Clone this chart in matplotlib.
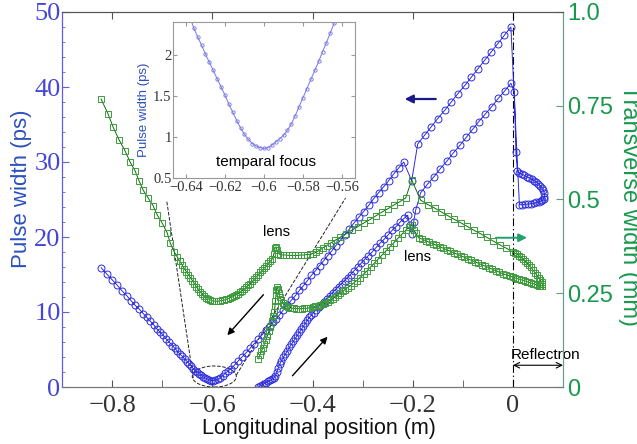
import numpy as np
import matplotlib
matplotlib.use('Agg')
import matplotlib.pyplot as plt
from matplotlib.patches import Ellipse
from matplotlib.ticker import MultipleLocator

plt.rcParams['font.family'] = ['Liberation Sans', 'DejaVu Sans']
plt.rcParams['axes.unicode_minus'] = True

SERIF = 'Liberation Serif'

# ---- pulse width (ps), blue, left axis ----
# forward pass: start -> reflectron
blue_fwd_x = [-0.508, -0.504, -0.500, -0.496, -0.492, -0.488, -0.484, -0.480, -0.477, -0.474,
              -0.471, -0.468, -0.465, -0.462, -0.458, -0.454, -0.450, -0.446, -0.442, -0.438,
              -0.434, -0.430, -0.426, -0.422, -0.418, -0.414, -0.410, -0.406, -0.402, -0.398,
              -0.393, -0.388, -0.383, -0.378, -0.372, -0.366, -0.360, -0.354, -0.348, -0.342,
              -0.336, -0.330, -0.324, -0.317, -0.310, -0.303, -0.296, -0.289, -0.281, -0.273,
              -0.265, -0.257, -0.249, -0.241, -0.233, -0.225, -0.217, -0.210, -0.206, -0.202,
              -0.198, -0.194, -0.184, -0.171, -0.158, -0.145, -0.132, -0.119, -0.106, -0.093,
              -0.080, -0.068, -0.055, -0.042, -0.029, -0.016, -0.004]
blue_fwd_y = [0.0, 0.15, 0.3, 0.45, 0.6, 0.75, 0.9, 1.05, 1.2, 1.5,
              2.0, 2.6, 3.1, 3.5, 4.0, 4.4, 4.8, 5.3, 5.7, 6.1,
              6.5, 6.9, 7.3, 7.7, 8.1, 8.5, 8.9, 9.3, 9.6, 9.9,
              10.3, 10.7, 11.0, 11.4, 11.8, 12.2, 12.6, 13.0, 13.4, 13.8,
              14.2, 14.6, 15.0, 15.5, 16.0, 16.5, 17.0, 17.5, 18.0, 18.6,
              19.2, 19.7, 20.3, 20.9, 21.4, 22.0, 22.5, 22.9, 21.6, 20.4,
              22.0, 23.6, 25.9, 27.0, 28.0, 29.1, 30.1, 31.2, 32.2, 33.3,
              34.4, 35.4, 36.4, 37.4, 38.5, 39.5, 40.5]
# inside the reflectron
blue_refl_x = [0.003, 0.006, 0.009, 0.013, 0.018, 0.023, 0.028, 0.033, 0.038, 0.043,
               0.047, 0.051, 0.055, 0.058, 0.061, 0.063, 0.063, 0.062, 0.059, 0.056,
               0.052, 0.047, 0.042, 0.036, 0.030, 0.024, 0.018, 0.013]
blue_refl_y = [39.3, 31.3, 28.8, 28.5, 28.4, 28.2, 28.0, 27.9, 27.7, 27.5,
               27.3, 27.1, 26.8, 26.5, 26.2, 25.8, 25.4, 25.1, 24.9, 24.8,
               24.7, 24.6, 24.5, 24.45, 24.4, 24.35, 24.3, 24.3]
# return pass (listed left to right)
blue_ret_x = [-0.822, -0.811, -0.800, -0.790, -0.780, -0.771, -0.762, -0.754, -0.746, -0.738,
              -0.731, -0.724, -0.717, -0.710, -0.704, -0.698, -0.692, -0.686, -0.680, -0.675,
              -0.670, -0.665, -0.660, -0.655, -0.650, -0.646, -0.642, -0.638, -0.634, -0.630,
              -0.626, -0.622, -0.618, -0.614, -0.610, -0.606, -0.602, -0.598, -0.594, -0.589,
              -0.584, -0.579, -0.574, -0.569, -0.563, -0.556, -0.548, -0.540, -0.532, -0.524,
              -0.516, -0.508, -0.500, -0.492, -0.484, -0.478, -0.472, -0.466, -0.458, -0.450,
              -0.442, -0.434, -0.426, -0.418, -0.410, -0.402, -0.394, -0.386, -0.378, -0.370,
              -0.362, -0.354, -0.345, -0.336, -0.327, -0.318, -0.308, -0.298, -0.288, -0.278,
              -0.268, -0.258, -0.248, -0.238, -0.228, -0.218, -0.202, -0.190, -0.176, -0.163,
              -0.150, -0.136, -0.123, -0.110, -0.096, -0.083, -0.070, -0.056, -0.043, -0.030,
              -0.017, -0.004]
blue_ret_y = [15.9, 15.1, 14.3, 13.6, 12.8, 12.2, 11.5, 10.9, 10.4, 9.8,
              9.3, 8.8, 8.3, 7.7, 7.3, 6.9, 6.4, 6.0, 5.5, 5.2,
              4.8, 4.4, 4.1, 3.7, 3.4, 3.1, 2.8, 2.45, 2.2, 1.95,
              1.75, 1.55, 1.35, 1.2, 1.05, 0.92, 0.86, 0.86, 0.94, 1.04,
              1.25, 1.53, 1.82, 2.10, 2.41, 2.9, 3.5, 4.05, 4.6, 5.2,
              5.8, 6.4, 7.0, 7.6, 8.2, 8.7, 9.1, 9.6, 10.3, 10.9,
              11.6, 12.2, 12.9, 13.5, 14.2, 14.9, 15.5, 16.2, 16.8, 17.5,
              18.1, 18.8, 19.5, 20.3, 21.0, 21.8, 22.6, 23.4, 24.2, 25.1,
              25.9, 26.7, 27.5, 28.4, 29.2, 30.0, 27.5, 32.4, 33.6, 34.7,
              35.8, 36.9, 38.0, 39.1, 40.2, 41.3, 42.4, 43.6, 44.7, 45.8,
              46.9, 48.0]

# ---- transverse width (mm), green, right axis ----
green_fwd_x = [-0.508, -0.505, -0.502, -0.499, -0.496, -0.493, -0.490, -0.487, -0.484, -0.481,
               -0.478, -0.476, -0.475, -0.474, -0.473, -0.472, -0.471, -0.469, -0.467, -0.465,
               -0.462, -0.459, -0.456, -0.452, -0.448, -0.444, -0.440, -0.436, -0.432, -0.428,
               -0.424, -0.420, -0.416, -0.412, -0.408, -0.404, -0.400, -0.395, -0.390, -0.385,
               -0.380, -0.375, -0.370, -0.365, -0.360, -0.355, -0.350, -0.345, -0.340, -0.335,
               -0.330, -0.324, -0.318, -0.312, -0.305, -0.298, -0.291, -0.284, -0.277, -0.270,
               -0.262, -0.254, -0.246, -0.238, -0.230, -0.222, -0.214, -0.208, -0.202, -0.198,
               -0.194, -0.188, -0.181, -0.174, -0.167, -0.160, -0.153, -0.146, -0.139, -0.132,
               -0.125, -0.118, -0.111, -0.104, -0.097, -0.090, -0.083, -0.076, -0.069, -0.062,
               -0.055, -0.048, -0.041, -0.034, -0.027, -0.020, -0.013, -0.006, 0.000]
green_fwd_y = [0.075, 0.085, 0.095, 0.105, 0.115, 0.125, 0.137, 0.149, 0.161, 0.175,
               0.190, 0.200, 0.215, 0.230, 0.245, 0.258, 0.268, 0.262, 0.250, 0.240,
               0.232, 0.225, 0.220, 0.216, 0.213, 0.211, 0.210, 0.210, 0.209, 0.209,
               0.209, 0.209, 0.210, 0.210, 0.211, 0.212, 0.213, 0.215, 0.217, 0.220,
               0.222, 0.225, 0.228, 0.232, 0.236, 0.240, 0.245, 0.250, 0.255, 0.260,
               0.265, 0.270, 0.277, 0.284, 0.292, 0.301, 0.310, 0.320, 0.330, 0.340,
               0.351, 0.362, 0.373, 0.384, 0.396, 0.407, 0.418, 0.426, 0.432, 0.418,
               0.410, 0.398, 0.394, 0.390, 0.386, 0.382, 0.378, 0.374, 0.370, 0.366,
               0.362, 0.358, 0.354, 0.350, 0.346, 0.342, 0.338, 0.334, 0.330, 0.326,
               0.322, 0.318, 0.314, 0.310, 0.306, 0.302, 0.299, 0.296, 0.293]
green_refl_x = [0.004, 0.008, 0.012, 0.016, 0.020, 0.024, 0.028, 0.032, 0.036, 0.040,
                0.044, 0.048, 0.052, 0.055, 0.058, 0.059, 0.058, 0.055, 0.052, 0.048,
                0.044, 0.040, 0.036, 0.032, 0.028, 0.024, 0.020, 0.016, 0.012, 0.008,
                0.004, 0.000]
green_refl_y = [0.291, 0.289, 0.288, 0.286, 0.285, 0.283, 0.281, 0.279, 0.277, 0.276,
                0.274, 0.272, 0.270, 0.269, 0.270, 0.274, 0.279, 0.285, 0.291, 0.298,
                0.305, 0.312, 0.319, 0.325, 0.331, 0.336, 0.341, 0.346, 0.350, 0.354,
                0.357, 0.360]
green_ret_x = [-0.013, -0.026, -0.039, -0.052, -0.065, -0.078, -0.091, -0.104, -0.117, -0.130,
               -0.143, -0.156, -0.169, -0.184, -0.202, -0.214, -0.226, -0.238, -0.250, -0.262,
               -0.274, -0.286, -0.298, -0.310, -0.322, -0.334, -0.345, -0.355, -0.364, -0.372,
               -0.380, -0.387, -0.393, -0.399, -0.405, -0.411, -0.417, -0.423, -0.429, -0.435,
               -0.441, -0.447, -0.453, -0.459, -0.464, -0.468, -0.471, -0.473, -0.475, -0.477,
               -0.480, -0.484, -0.488, -0.492, -0.496, -0.500, -0.504, -0.508, -0.512, -0.516,
               -0.520, -0.524, -0.528, -0.532, -0.536, -0.540, -0.544, -0.548, -0.552, -0.556,
               -0.560, -0.564, -0.568, -0.572, -0.576, -0.580, -0.584, -0.588, -0.592, -0.596,
               -0.600, -0.604, -0.608, -0.612, -0.616, -0.620, -0.624, -0.628, -0.632, -0.636,
               -0.640, -0.644, -0.648, -0.652, -0.656, -0.660, -0.665, -0.670, -0.676, -0.684,
               -0.690, -0.700, -0.710, -0.718, -0.728, -0.738, -0.746, -0.754, -0.764, -0.774,
               -0.786, -0.798, -0.808, -0.822]
green_ret_y = [0.370, 0.379, 0.389, 0.399, 0.409, 0.418, 0.428, 0.438, 0.447, 0.457,
               0.467, 0.477, 0.486, 0.498, 0.552, 0.504, 0.494, 0.485, 0.475, 0.466,
               0.456, 0.446, 0.437, 0.427, 0.418, 0.408, 0.399, 0.391, 0.384, 0.377,
               0.370, 0.364, 0.359, 0.356, 0.354, 0.353, 0.352, 0.352, 0.351, 0.351,
               0.351, 0.351, 0.352, 0.352, 0.353, 0.356, 0.366, 0.374, 0.370, 0.355,
               0.342, 0.336, 0.330, 0.324, 0.318, 0.312, 0.306, 0.300, 0.294, 0.288,
               0.282, 0.276, 0.271, 0.266, 0.261, 0.257, 0.253, 0.249, 0.246, 0.243,
               0.240, 0.238, 0.236, 0.234, 0.232, 0.231, 0.230, 0.229, 0.229, 0.229,
               0.230, 0.232, 0.235, 0.238, 0.243, 0.248, 0.254, 0.261, 0.268, 0.276,
               0.284, 0.292, 0.300, 0.308, 0.316, 0.325, 0.336, 0.347, 0.360, 0.384,
               0.411, 0.437, 0.459, 0.483, 0.504, 0.525, 0.549, 0.576, 0.600, 0.629,
               0.659, 0.693, 0.728, 0.768]

# ---- inset: temporal focus ----
inset_x = [-0.640, -0.638, -0.636, -0.634, -0.632, -0.630, -0.628, -0.626, -0.624, -0.622,
           -0.620, -0.618, -0.616, -0.614, -0.612, -0.610, -0.608, -0.606, -0.604, -0.602,
           -0.600, -0.598, -0.596, -0.594, -0.592, -0.590, -0.588, -0.586, -0.584, -0.582,
           -0.580, -0.578, -0.576, -0.574, -0.572, -0.570, -0.568, -0.566, -0.564, -0.562]
inset_y = [2.62, 2.47, 2.33, 2.22, 2.12, 2.01, 1.91, 1.81, 1.71, 1.61,
           1.51, 1.40, 1.30, 1.20, 1.11, 1.03, 0.97, 0.92, 0.89, 0.87,
           0.86, 0.87, 0.90, 0.94, 0.98, 1.02, 1.08, 1.16, 1.26, 1.37,
           1.48, 1.59, 1.70, 1.81, 1.92, 2.04, 2.15, 2.27, 2.39, 2.51]

x_ticks = [-0.8, -0.6, -0.4, -0.2, 0]
x_labels = ['\u22120.8', '\u22120.6', '\u22120.4', '\u22120.2', '0']
left_ticks = [0, 10, 20, 30, 40, 50]
right_ticks = [0, 0.25, 0.5, 0.75, 1.0]
right_labels = ['0', '0.25', '0.5', '0.75', '1.0']
inset_xticks = [-0.64, -0.62, -0.6, -0.58, -0.56]
inset_xlabels = ['\u22120.64', '\u22120.62', '\u22120.6', '\u22120.58', '\u22120.56']
inset_yticks = [0.5, 1, 1.5, 2]
inset_ylabels = ['0.5', '1', '1.5', '2']

BLUE = '#2b2bdc'
BLUE_TXT = '#4646d6'
BLUE_LBL = '#2c50bf'
GREEN_TXT = '#17994c'
GREEN_LINE = '#0c6e0c'
GREEN_MK = '#3c9c3c'

bx = np.concatenate([blue_fwd_x, blue_refl_x, blue_ret_x[::-1]])
by = np.concatenate([blue_fwd_y, blue_refl_y, blue_ret_y[::-1]])
gx = np.concatenate([green_fwd_x, green_refl_x, green_ret_x])
gy = np.concatenate([green_fwd_y, green_refl_y, green_ret_y])

fig = plt.figure(figsize=(6.37, 4.44), dpi=100)
ax = fig.add_axes([62 / 637, 57 / 444, 501 / 637, 375 / 444])
ax2 = ax.twinx()

ax.plot(bx, by, color=BLUE, lw=0.7, marker='o', ms=5, mfc='none', mec=BLUE, mew=0.7, zorder=3)
ax2.plot(gx, gy, color=GREEN_LINE, lw=0.7, marker='s', ms=4.3, mfc='none', mec=GREEN_MK, mew=0.7)

ax.set_xlim(-0.9, 0.1)
ax.set_ylim(0, 50)
ax2.set_ylim(0, 1)

ax.set_xticks(x_ticks, x_labels, fontfamily=SERIF, fontsize=19, color='#333333')
ax.xaxis.set_minor_locator(MultipleLocator(0.1))
ax.tick_params(axis='x', which='major', direction='in', length=5, top=True, pad=6, color='#555555')
ax.tick_params(axis='x', which='minor', direction='in', length=5, top=False, color='#555555')
ax.set_yticks(left_ticks, [str(t) for t in left_ticks], fontfamily=SERIF, fontsize=19, color=BLUE_TXT)
ax.yaxis.set_minor_locator(MultipleLocator(2))
ax.tick_params(axis='y', which='major', direction='in', length=5, pad=1, color='#6060e0')
ax.tick_params(axis='y', which='minor', direction='in', length=2, color='#6060e0')

ax2.set_yticks(right_ticks, right_labels, fontsize=17, color=GREEN_TXT)
ax2.tick_params(axis='y', direction='in', length=5, pad=3, color='#5f9f80')

for a in (ax, ax2):
    a.spines['left'].set_color('#5a5aee')
    a.spines['right'].set_color('#6a9f86')
    a.spines['top'].set_color('#555555')
    a.spines['bottom'].set_color('#777777')

ax.set_xlabel('Longitudinal position (m)', fontsize=15.5, color='#111111')
ax.xaxis.set_label_coords(0.512, -0.083)
ax.set_ylabel('Pulse width (ps)', fontsize=16, color=BLUE_LBL)
ax.yaxis.set_label_coords(-0.060, 0.53)
ax2.set_ylabel('Transverse width (mm)', fontsize=17, color=GREEN_TXT, rotation=270, va='bottom')
ax2.yaxis.set_label_coords(1.11, 0.485)

# reflectron boundary, zoom guides
ax.axvline(0, color='k', lw=0.8, ls=(0, (7, 2.5, 1.2, 2.5)))
ax.plot([-0.6907, -0.638], [24.7, 1.2], ls='--', color='#222222', lw=0.7)
ax.plot([-0.552, -0.334], [1.6, 25.2], ls='--', color='#222222', lw=0.7)
ax.add_patch(Ellipse((-0.596, 1.4), 0.088, 2.8, fill=False, ls='--', lw=0.7, ec='#222222'))

# arrows
arr = dict(shrinkA=0, shrinkB=0)
ax.annotate('', xy=(-0.216, 38.4), xytext=(-0.154, 38.4),
            arrowprops=dict(arrowstyle='-|>', color='#1a1a8c', lw=1.6, mutation_scale=12, **arr))
ax.annotate('', xy=(0.028, 19.9), xytext=(-0.034, 19.9),
            arrowprops=dict(arrowstyle='-|>', color='#22a070', lw=1.4, mutation_scale=12, **arr))
ax.annotate('', xy=(-0.57, 6.9), xytext=(-0.498, 12.3),
            arrowprops=dict(arrowstyle='-|>', color='k', lw=1.0, mutation_scale=10, **arr))
ax.annotate('', xy=(-0.37, 6.7), xytext=(-0.44, 1.5),
            arrowprops=dict(arrowstyle='-|>', color='k', lw=1.0, mutation_scale=10, **arr))
ax.annotate('', xy=(0.0, 2.9), xytext=(0.1, 2.9), annotation_clip=False,
            arrowprops=dict(arrowstyle='<->', color='k', lw=0.8, mutation_scale=10, **arr))

ax.text(-0.472, 20.7, 'lens', ha='center', va='center', fontsize=10.5)
ax.text(-0.19, 17.3, 'lens', ha='center', va='center', fontsize=10.5)
ax.text(0.066, 4.3, 'Reflectron', ha='center', va='center', fontsize=11, clip_on=False)

# inset
axin = fig.add_axes([173 / 637, (444 - 178) / 444, 182 / 637, 156 / 444])
axin.plot(inset_x, inset_y, color='#8585ea', lw=0.8, marker='o', ms=2.4, mfc='none',
          mec='#7272e0', mew=0.6)
axin.set_xlim(-0.6466, -0.5534)
axin.set_ylim(0.5, 2.4)
axin.set_xticks(inset_xticks, inset_xlabels, fontfamily=SERIF, fontsize=10.5, color='#333333')
axin.set_yticks(inset_yticks, inset_ylabels, fontfamily=SERIF, fontsize=10.5, color='#333333')
axin.tick_params(direction='in', length=3, pad=2, top=True, right=True, color='#999999')
axin.tick_params(axis='y', pad=1)
for s in axin.spines.values():
    s.set_color('#999999')
axin.set_ylabel('Pulse width (ps)', fontsize=9.5, color=BLUE_LBL)
axin.yaxis.set_label_coords(-0.125, 0.44)
axin.text(-0.599, 0.695, 'temparal focus', ha='center', va='center', fontsize=11)

fig.savefig('out.png', dpi=100)
